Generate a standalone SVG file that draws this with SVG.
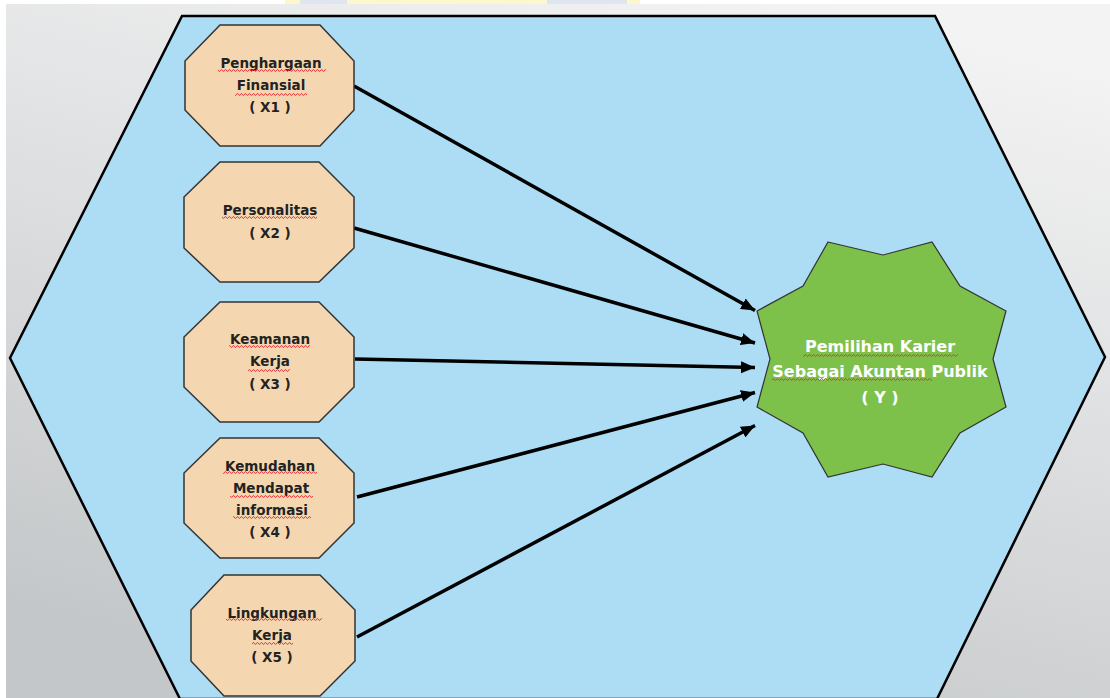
<svg xmlns="http://www.w3.org/2000/svg" width="1110" height="698" viewBox="0 0 1110 698">
  <defs>
    <linearGradient id="bg" x1="0.75" y1="0" x2="0.35" y2="1">
      <stop offset="0" stop-color="#f3f3f3"/>
      <stop offset="0.35" stop-color="#e3e4e5"/>
      <stop offset="1" stop-color="#c4c7c9"/>
    </linearGradient>
    <pattern id="wave" width="4" height="3" patternUnits="userSpaceOnUse">
      <path d="M0,2.3 L1,0.7 L2,0.7 L3,2.3 L4,2.3" fill="none" stroke="#e8393b" stroke-width="0.9"/>
    </pattern>
    <marker id="arrow" markerUnits="userSpaceOnUse" markerWidth="15" markerHeight="13" refX="14" refY="6.5" orient="auto">
      <path d="M0,0.5 L14,6.5 L0,12.5 Z" fill="#000"/>
    </marker>
  </defs>
  <style>
    .oct { fill: #f4d7b0; stroke: #333; stroke-width: 1.5; }
    .lbl { font-family: "DejaVu Sans", "Liberation Sans", sans-serif; font-weight: bold; font-size: 13.5px; fill: #222; text-anchor: middle; }
    .ylbl { font-family: "DejaVu Sans", "Liberation Sans", sans-serif; font-weight: bold; font-size: 16px; fill: #ffffff; text-anchor: middle; }
    .sq { fill: url(#wave); }
    .conn line { stroke: #000; stroke-width: 3.5; marker-end: url(#arrow); }
  </style>

  <!-- background -->
  <rect x="0" y="0" width="1110" height="698" fill="url(#bg)"/>
  <rect x="0" y="0" width="1110" height="4" fill="#ffffff"/>
  <rect x="0" y="0" width="6" height="698" fill="#ffffff"/>
  <rect x="285" y="0" width="355" height="4" fill="#fdf8cc"/>
  <rect x="300" y="0" width="47" height="4" fill="#dfe6ef"/>
  <rect x="547" y="0" width="80" height="4" fill="#dfe6ef"/>

  <!-- outer hexagon -->
  <g id="frame">
    <polygon points="182,16 935,16 1105,357 937,699 180,699 10,358" fill="#acddf5" stroke="#000" stroke-width="2.5" stroke-linejoin="miter"/>
  </g>

  <!-- connectors -->
  <g id="connectors" class="conn">
    <line x1="354" y1="86" x2="755" y2="310.5"/>
    <line x1="354" y1="228" x2="755" y2="343"/>
    <line x1="355" y1="359" x2="755" y2="367.5"/>
    <line x1="357" y1="497" x2="755" y2="392.5"/>
    <line x1="357" y1="637" x2="755" y2="425.5"/>
  </g>

  <!-- X1 -->
  <g id="x1">
    <polygon class="oct" points="220,25 320,25 354,61 354,110 320,146 220,146 185,110 185,61"/>
    <text class="lbl" x="271" y="68">Penghargaan</text>
    <text class="lbl" x="271" y="90">Finansial</text>
    <text class="lbl" x="270" y="112">( X1 )</text>
    <rect class="sq" x="218" y="69" width="108" height="3"/>
    <rect class="sq" x="235" y="93" width="72" height="3"/>
  </g>

  <!-- X2 -->
  <g id="x2">
    <polygon class="oct" points="220,162 319,162 354,197 354,248 319,282 220,282 184,248 184,197"/>
    <text class="lbl" x="270" y="215">Personalitas</text>
    <text class="lbl" x="270" y="238">( X2 )</text>
    <rect class="sq" x="222" y="216" width="95" height="3"/>
  </g>

  <!-- X3 -->
  <g id="x3">
    <polygon class="oct" points="220,302 319,302 354,337 354,387 319,422 220,422 184,387 184,337"/>
    <text class="lbl" x="270" y="344">Keamanan</text>
    <text class="lbl" x="270" y="366">Kerja</text>
    <text class="lbl" x="270" y="389">( X3 )</text>
    <rect class="sq" x="229" y="345" width="81" height="3"/>
    <rect class="sq" x="248" y="369" width="42" height="3"/>
  </g>

  <!-- X4 -->
  <g id="x4">
    <polygon class="oct" points="220,438 319,438 354,473 354,523 319,558 220,558 184,523 184,473"/>
    <text class="lbl" x="270" y="471">Kemudahan</text>
    <text class="lbl" x="271" y="493">Mendapat</text>
    <text class="lbl" x="272" y="515">informasi</text>
    <text class="lbl" x="270" y="537">( X4 )</text>
    <rect class="sq" x="223" y="471" width="94" height="3"/>
    <rect class="sq" x="230" y="495" width="83" height="3"/>
    <rect class="sq" x="233" y="516" width="78" height="3"/>
  </g>

  <!-- X5 -->
  <g id="x5">
    <polygon class="oct" points="224,575 320,575 355,610 355,661 320,696 224,696 191,661 191,610"/>
    <text class="lbl" x="272" y="618">Lingkungan</text>
    <text class="lbl" x="272" y="640">Kerja</text>
    <text class="lbl" x="272" y="662">( X5 )</text>
    <rect class="sq" x="226" y="618" width="96" height="3"/>
    <rect class="sq" x="252" y="642" width="41" height="3"/>
  </g>

  <!-- Y -->
  <g id="y">
    <polygon points="828,242 883,255 932,242 960,286 1006,311 993,359 1006,407 960,433 932,477 883,464 828,477 803,433 757,407 770,359 757,311 803,286" fill="#7dc14b" stroke="#333" stroke-width="1.2" stroke-linejoin="miter"/>
    <text class="ylbl" x="880" y="352">Pemilihan Karier</text>
    <text class="ylbl" x="880" y="377">Sebagai Akuntan Publik</text>
    <text class="ylbl" x="880" y="403">( Y )</text>
    <rect class="sq" x="803" y="354" width="155" height="3"/>
    <rect class="sq" x="772" y="378" width="160" height="3"/>
  </g>
</svg>
